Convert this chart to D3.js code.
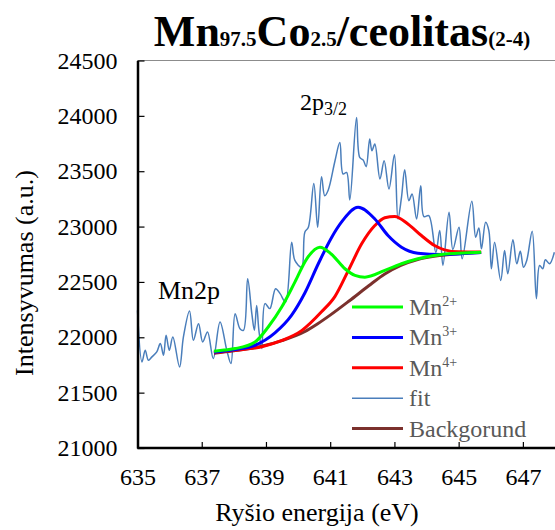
<!DOCTYPE html>
<html>
<head>
<meta charset="utf-8">
<script src="https://cdn.jsdelivr.net/npm/d3@7.9.0/dist/d3.min.js"></script>
<style>
  body { margin: 0; background: #fff; }
  svg { display: block; }
  svg text { font-family: "Liberation Serif", "Times New Roman", serif; }
</style>
</head>
<body>
<svg id="chart" width="555" height="530"></svg>
<script>
// axis ticks
const xTicks = [635, 637, 639, 641, 643, 645, 647];
const yTicks = [21000, 21500, 22000, 22500, 23000, 23500, 24000, 24500];

// measured spectrum ("fit"), [eV, intensity]
const fitPoints = [
  [635.00, 22243], [635.14, 21777], [635.24, 21883], [635.34, 21793], [635.45, 21823],
  [635.60, 21868], [635.71, 21943], [635.81, 21838], [635.89, 22018], [635.99, 21883],
  [636.10, 22003], [636.31, 21732], [636.43, 22003], [636.62, 22237], [636.74, 21973],
  [636.90, 22123], [637.03, 21958], [637.18, 22048], [637.36, 21808], [637.57, 22138],
  [637.78, 21883], [637.91, 21763], [638.04, 22213], [638.19, 22078], [638.30, 22063],
  [638.43, 22529], [638.56, 22213], [638.64, 22063], [638.71, 22288], [638.78, 22063],
  [638.87, 21898], [638.97, 22304], [639.12, 22259], [639.30, 22439], [639.44, 22394],
  [639.61, 22318], [639.80, 22859], [639.90, 22694], [640.11, 22633], [640.21, 22949],
  [640.32, 22994], [640.49, 23390], [640.61, 22994], [640.73, 23450], [640.83, 23279],
  [640.94, 23331], [641.15, 23595], [641.30, 23759], [641.40, 23475], [641.51, 23489],
  [641.61, 23241], [641.82, 23985], [641.92, 23624], [642.03, 23600], [642.12, 23541],
  [642.23, 23790], [642.30, 23685], [642.39, 23745], [642.55, 23430], [642.68, 23595],
  [642.83, 23340], [643.00, 23649], [643.11, 23069], [643.22, 23264], [643.32, 23513],
  [643.45, 23234], [643.55, 23295], [643.69, 23069], [643.82, 23369], [643.92, 23090],
  [644.07, 23099], [644.29, 22766], [644.41, 22964], [644.51, 22649], [644.70, 23129],
  [644.82, 22793], [645.01, 22994], [645.11, 22709], [645.41, 23228], [645.53, 22904],
  [645.63, 22988], [645.71, 22799], [645.84, 23039], [645.94, 22964], [646.02, 22619],
  [646.12, 22859], [646.31, 22514], [646.43, 22784], [646.53, 22574], [646.69, 22880],
  [646.81, 22664], [646.92, 22777], [647.02, 22633], [647.12, 22694], [647.29, 22958],
  [647.42, 22349], [647.52, 22649], [647.62, 22619], [647.70, 22700], [647.83, 22664],
  [647.98, 22768]
];

// fitted components
const mn2Points = [
  [637.38, 21874], [637.70, 21885], [638.04, 21898], [638.66, 21958], [639.07, 22093],
  [639.49, 22273], [639.90, 22498], [640.27, 22709], [640.68, 22814], [641.04, 22750],
  [641.46, 22619], [641.77, 22559], [642.08, 22543], [642.70, 22604], [643.22, 22664],
  [643.73, 22709], [644.46, 22748], [645.70, 22768]
];
const mn3Points = [
  [637.38, 21865], [638.04, 21890], [638.66, 21928], [639.28, 22040], [639.80, 22200],
  [640.21, 22400], [640.63, 22664], [641.04, 22900], [641.35, 23040], [641.87, 23174],
  [642.39, 23069], [642.80, 22919], [643.22, 22814], [643.73, 22760], [644.46, 22748],
  [645.70, 22766]
];
const mn4Points = [
  [637.38, 21860], [638.04, 21882], [638.87, 21915], [639.50, 21972], [640.11, 22060],
  [640.73, 22230], [641.15, 22370], [641.56, 22600], [641.98, 22844], [642.39, 23009],
  [642.70, 23080], [643.01, 23092], [643.42, 23024], [643.84, 22919], [644.25, 22829],
  [644.56, 22790], [645.00, 22772], [645.70, 22770]
];
const bgPoints = [
  [637.38, 21856], [638.00, 21878], [638.80, 21915], [639.50, 21970], [640.20, 22050],
  [640.60, 22120], [641.00, 22200], [641.60, 22330], [642.20, 22465], [642.70, 22572],
  [643.20, 22650], [643.70, 22700], [644.40, 22738], [645.00, 22755], [645.70, 22766]
];

const series = [
  { name: 'Mn', sup: '2+', points: mn2Points, color: '#00ff00', width: 3 },
  { name: 'Mn', sup: '3+', points: mn3Points, color: '#0000ff', width: 3 },
  { name: 'Mn', sup: '4+', points: mn4Points, color: '#ff0000', width: 3 },
  { name: 'fit', sup: '', points: fitPoints, color: '#4a7ebb', width: 1.5 },
  { name: 'Backgorund', sup: '', points: bgPoints, color: '#7b312d', width: 3 }
];

const serif = '"Liberation Serif", "Times New Roman", serif';
const svg = d3.select('#chart');

const x = d3.scaleLinear().domain([635, 648]).range([137.5, 555]);
const y = d3.scaleLinear().domain([21000, 24500]).range([448, 60.5]);

// top border of plot area
svg.append('line')
  .attr('x1', x(635)).attr('x2', 555)
  .attr('y1', y(24500)).attr('y2', y(24500))
  .attr('stroke', '#8c8c8c').attr('stroke-width', 1);

const fitLine = d3.line()
  .x(d => x(d[0]))
  .y(d => y(d[1]))
  .curve(d3.curveCatmullRom.alpha(0.5));
const smoothLine = d3.line()
  .x(d => x(d[0]))
  .y(d => y(d[1]))
  .curve(d3.curveMonotoneX);

// fit first, then components on top
const drawOrder = [3, 4, 2, 1, 0];
drawOrder.forEach(i => {
  const s = series[i];
  svg.append('path')
    .datum(s.points)
    .attr('d', i === 3 ? fitLine : smoothLine)
    .attr('fill', 'none')
    .attr('stroke', s.color)
    .attr('stroke-width', s.width)
    .attr('stroke-linejoin', 'round');
});

// axes
const yAxis = svg.append('g')
  .attr('transform', `translate(${x(635)},0)`)
  .call(d3.axisLeft(y).tickValues(yTicks).tickFormat(d3.format('d'))
    .tickSizeInner(-7).tickSizeOuter(0).tickPadding(20));
const xAxis = svg.append('g')
  .attr('transform', `translate(0,${y(21000)})`)
  .call(d3.axisBottom(x).tickValues(xTicks).tickFormat(d3.format('d'))
    .tickSizeInner(-6).tickSizeOuter(0).tickPadding(20));

[yAxis, xAxis].forEach(g => {
  g.attr('font-family', serif).attr('font-size', 24);
  g.select('.domain').attr('stroke', '#000').attr('stroke-width', 2.5);
  g.selectAll('.tick line').attr('stroke', '#000').attr('stroke-width', 1.2);
  g.selectAll('.tick text').attr('fill', '#000');
});
xAxis.select('.domain').attr('d', `M${x(635)},0H555`);

// axis titles
svg.append('text')
  .attr('transform', 'translate(33,273) rotate(-90)')
  .attr('text-anchor', 'middle')
  .attr('font-size', 26)
  .text('Intensyvumas (a.u.)');

svg.append('text')
  .attr('x', 317).attr('y', 521)
  .attr('text-anchor', 'middle')
  .attr('font-size', 26)
  .text('Ryšio energija (eV)');

// title
const title = svg.append('text')
  .attr('x', 342).attr('y', 46)
  .attr('text-anchor', 'middle')
  .attr('font-weight', 'bold')
  .attr('font-size', 44);
const titleParts = [['Mn', false], ['97.5', true], ['Co', false], ['2.5', true], ['/ceolitas', false], ['(2-4)', true]];
titleParts.forEach(([t, sub]) => {
  title.append('tspan')
    .attr('font-size', sub ? 21 : 44)
    .text(t);
});

// annotations
svg.append('text')
  .attr('x', 158).attr('y', 299)
  .attr('font-size', 26)
  .text('Mn2p');

const peakLabel = svg.append('text')
  .attr('x', 300).attr('y', 110)
  .attr('font-size', 24);
peakLabel.append('tspan').text('2p');
peakLabel.append('tspan').attr('dy', 5).attr('font-size', 18).text('3/2');

// legend
const legend = svg.append('g').attr('transform', 'translate(352,307)');
series.forEach((s, i) => {
  const row = legend.append('g').attr('transform', `translate(0,${i * 30.4})`);
  row.append('line')
    .attr('x1', 0).attr('x2', 51)
    .attr('stroke', s.color)
    .attr('stroke-width', s.width === 3 ? 3 : 1.5);
  const t = row.append('text')
    .attr('x', 57).attr('y', 8)
    .attr('fill', '#595959')
    .attr('font-size', 24);
  t.append('tspan').text(s.name);
  if (s.sup) {
    t.append('tspan').attr('dy', -9).attr('font-size', 14).text(s.sup);
  }
});
</script>
</body>
</html>
